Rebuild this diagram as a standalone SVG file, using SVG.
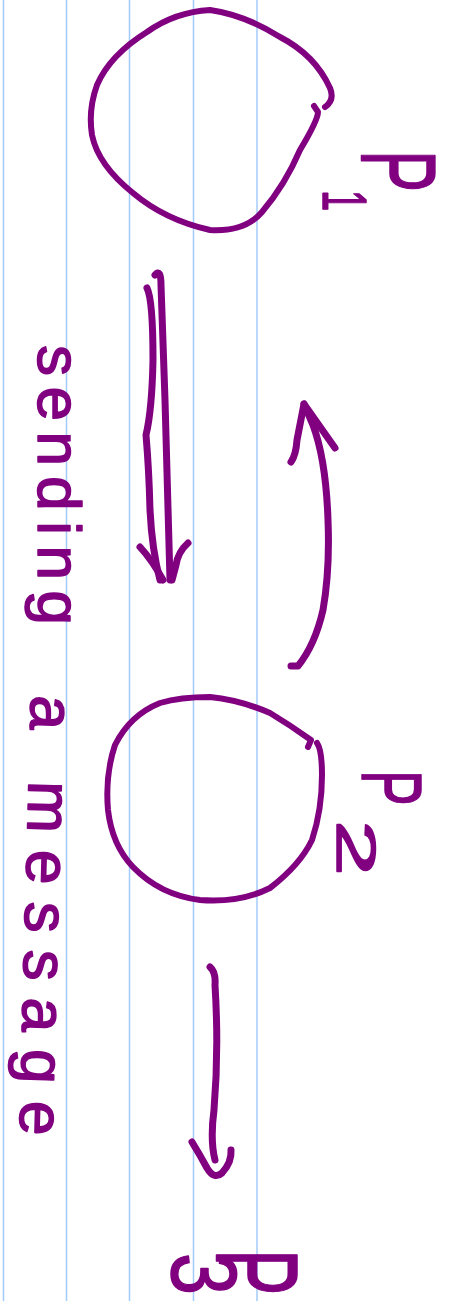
<svg xmlns="http://www.w3.org/2000/svg" width="456" height="1301" viewBox="0 0 456 1301">
<style>
.rule{stroke:#a3cbfa;stroke-width:1.5;fill:none}
.ink{stroke:#800080;stroke-width:6;fill:none;stroke-linecap:round;stroke-linejoin:round}
.arw{stroke:#800080;stroke-width:7;fill:none;stroke-linecap:round;stroke-linejoin:round}
.hand{font-family:"Liberation Sans",Arial,sans-serif;fill:#800080;stroke:#800080;stroke-width:1.5;stroke-linejoin:round}
</style>
<rect width="456" height="1301" fill="#ffffff"/>
<g id="rules">
<line class="rule" x1="3.5" y1="0" x2="3.5" y2="1301"/>
<line class="rule" x1="66.5" y1="0" x2="66.5" y2="1301"/>
<line class="rule" x1="129.5" y1="0" x2="129.5" y2="1301"/>
<line class="rule" x1="193.5" y1="0" x2="193.5" y2="1301"/>
<line class="rule" x1="257" y1="0" x2="257" y2="1301"/>
</g>
<g id="node-p1">
<path class="ink" d="M325,107 Q335,100 330,88 Q315,55 280,37 Q245,15 210,10 Q175,12 147,32 Q110,55 97,85 Q88,110 92,135 Q98,165 133,193 Q165,220 210,230 Q245,232 262,212 Q285,185 300,150 Q318,120 318,112 L314,106"/>
<text class="hand" font-size="105" transform="translate(362,150) rotate(90) scale(0.6,1)">P</text>
<text class="hand" font-size="63" transform="translate(323,190) rotate(90) scale(0.6,1)">1</text>
</g>
<g id="node-p2">
<path class="ink" d="M308,747 L311,740 Q290,725 270,713 Q240,700 210,697 Q180,697 160,703 Q130,715 115,745 Q105,775 108,810 Q112,845 133,867 Q160,895 200,900 Q240,903 270,888 Q300,865 312,840 Q322,810 322,775 Q322,750 317,743"/>
<text class="hand" font-size="85" transform="translate(362,770) rotate(90) scale(0.63,1)">P</text>
<text class="hand" font-size="56" transform="translate(337,820) rotate(90) scale(1.8,1)">2</text>
</g>
<g id="node-p3">
<text class="hand" font-size="116" transform="translate(217,1249) rotate(90) scale(0.6,1)">P</text>
<text class="hand" font-size="92" transform="translate(172,1253) rotate(90) scale(0.82,1)">3</text>
</g>
<g id="label-message">
<text class="hand" font-size="62" textLength="280" lengthAdjust="spacing" transform="translate(38,345) rotate(90)">sending</text>
<text class="hand" font-size="62" textLength="440" lengthAdjust="spacing" transform="translate(31,695) rotate(91.5)">a message</text>
</g>
<g id="connectors">
<path class="arw" d="M147,288 Q153,300 153,360 Q152,410 146,435 Q149,470 150,510 Q152,550 160,580"/>
<path class="arw" d="M155,275 Q161,268 161,285 L165,400 Q168,500 170,580"/>
<path class="arw" d="M140,547 Q152,560 163,580 M188,543 Q178,552 176,565 L172,580"/>
<path class="arw" d="M291,666 L298,666 Q315,645 323,610 Q330,570 328,520 Q326,460 313,425 L304,404"/>
<path class="arw" d="M291,462 Q296,455 297,440 L304,404 L335,448"/>
<path class="arw" d="M210,967 Q216,972 215,985 Q219,1050 214,1110 Q210,1140 215,1160"/>
<path class="arw" d="M192,1142 Q200,1155 207,1168 Q214,1180 222,1173 Q232,1162 231,1150"/>
</g>
</svg>
